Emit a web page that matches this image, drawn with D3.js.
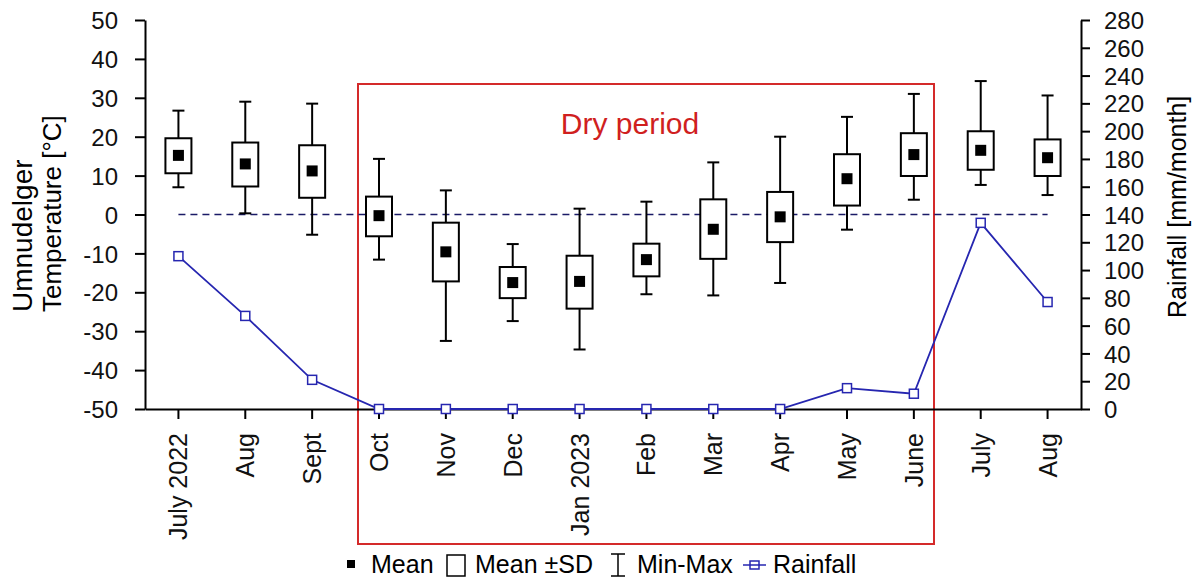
<!DOCTYPE html>
<html>
<head>
<meta charset="utf-8">
<script src="https://cdn.jsdelivr.net/npm/d3@7"></script>
<style>
  body { margin: 0; background: #fff; }
  text { font-family: "Liberation Sans", Arial, sans-serif; }
</style>
</head>
<body>
<script>
// months on the x axis (last "Aug" has a trailing space so the band scale keeps it apart)
var months = ["July 2022", "Aug", "Sept", "Oct", "Nov", "Dec", "Jan 2023", "Feb", "Mar", "Apr", "May", "June", "July", "Aug "];
// temperature stats (degC)
var tMean = [15.2, 13.0, 11.2, -0.3, -9.6, -17.5, -17.2, -11.6, -3.8, -0.6, 9.2, 15.4, 16.5, 14.6];
var tSdHigh = [19.6, 18.5, 17.8, 4.6, -2.1, -13.5, -10.6, -7.5, 3.9, 5.8, 15.5, 20.9, 21.4, 19.3];
var tSdLow = [10.6, 7.2, 4.3, -5.6, -17.2, -21.5, -24.2, -15.9, -11.4, -7.1, 2.3, 9.9, 11.5, 9.9];
var tMax = [26.7, 29.0, 28.5, 14.3, 6.2, -7.6, 1.5, 3.3, 13.4, 20.0, 25.1, 31.0, 34.3, 30.6];
var tMin = [7.0, 0.3, -5.2, -11.6, -32.5, -27.4, -34.7, -20.5, -20.8, -17.6, -3.9, 3.8, 7.6, 5.0];
// monthly rainfall (mm/month)
var rain = [110, 67, 21, 0, 0, 0, 0, 0, 0, 0, 15, 11, 134, 77];
var leftTicks = d3.range(-50, 51, 10);
var rightTicks = d3.range(0, 281, 20);

var width = 1199, height = 580;
var plotLeft = 145, plotRight = 1081, plotTop = 20, plotBottom = 409;

var svg = d3.select("body").append("svg")
    .attr("width", width)
    .attr("height", height);

var x = d3.scaleBand().domain(months).range([plotLeft, plotRight]).padding(0);
var y = d3.scaleLinear().domain([-50, 50]).range([plotBottom, plotTop]);
var y2 = d3.scaleLinear().domain([0, 280]).range([plotBottom, plotTop]);
var cx = function(i) { return x(months[i]) + x.bandwidth() / 2; };
// plain hyphen for negatives, like the original
var plain = function(d) { return String(d); };

// dry period frame
svg.append("rect")
    .attr("x", 358).attr("y", 84)
    .attr("width", 934 - 358).attr("height", 544 - 84)
    .attr("fill", "none")
    .attr("stroke", "#d42a2a")
    .attr("stroke-width", 2);
svg.append("text")
    .attr("x", 630).attr("y", 134)
    .attr("text-anchor", "middle")
    .attr("font-size", 30)
    .attr("fill", "#d01f1f")
    .text("Dry period");

// axes
var yAxis = svg.append("g")
    .attr("transform", "translate(" + plotLeft + ",0)")
    .call(d3.axisLeft(y).tickValues(leftTicks).tickFormat(plain).tickSize(10).tickPadding(17).tickSizeOuter(0));
var yAxis2 = svg.append("g")
    .attr("transform", "translate(" + plotRight + ",0)")
    .call(d3.axisRight(y2).tickValues(rightTicks).tickFormat(plain).tickSize(9).tickPadding(14).tickSizeOuter(0));
var xAxis = svg.append("g")
    .attr("transform", "translate(0," + plotBottom + ")")
    .call(d3.axisBottom(x).tickSize(10).tickSizeOuter(0));

[yAxis, yAxis2, xAxis].forEach(function(a) {
    a.select(".domain").attr("stroke", "#000").attr("stroke-width", 2);
    a.selectAll(".tick line").attr("stroke", "#000").attr("stroke-width", 2);
    a.selectAll("text").attr("font-size", 24).attr("fill", "#111").attr("font-family", "Liberation Sans, Arial, sans-serif");
});
yAxis.selectAll("text").attr("dy", "0.36em");
yAxis2.selectAll("text").attr("dy", "0.36em");
xAxis.selectAll("text")
    .text(function(d) { return d.trim(); })
    .attr("transform", "rotate(-90)")
    .attr("text-anchor", "end")
    .attr("x", -24)
    .attr("y", 0)
    .attr("dy", "0.36em")
    .attr("font-size", 25);

// axis titles
svg.append("text")
    .attr("transform", "translate(32,312) rotate(-90)")
    .attr("font-size", 28)
    .text("Umnudelger");
svg.append("text")
    .attr("transform", "translate(61,312) rotate(-90)")
    .attr("font-size", 26)
    .text("Temperature [°C]");
svg.append("text")
    .attr("transform", "translate(1186,318) rotate(-90)")
    .attr("font-size", 25)
    .text("Rainfall [mm/month]");

// zero line
svg.append("line")
    .attr("x1", cx(0)).attr("x2", cx(months.length - 1))
    .attr("y1", y(0)).attr("y2", y(0))
    .attr("stroke", "#1a1a66")
    .attr("stroke-width", 1.6)
    .attr("stroke-dasharray", "7,5");

// box plots
var boxW = 26, capW = 12, meanS = 11;
var g = svg.selectAll("g.month")
    .data(months)
    .enter()
    .append("g")
    .attr("class", "month");
g.append("line")
    .attr("x1", function(d, i) { return cx(i); })
    .attr("x2", function(d, i) { return cx(i); })
    .attr("y1", function(d, i) { return y(tMax[i]); })
    .attr("y2", function(d, i) { return y(tMin[i]); })
    .attr("stroke", "#000").attr("stroke-width", 2);
g.append("line")
    .attr("x1", function(d, i) { return cx(i) - capW / 2; })
    .attr("x2", function(d, i) { return cx(i) + capW / 2; })
    .attr("y1", function(d, i) { return y(tMax[i]); })
    .attr("y2", function(d, i) { return y(tMax[i]); })
    .attr("stroke", "#000").attr("stroke-width", 2);
g.append("line")
    .attr("x1", function(d, i) { return cx(i) - capW / 2; })
    .attr("x2", function(d, i) { return cx(i) + capW / 2; })
    .attr("y1", function(d, i) { return y(tMin[i]); })
    .attr("y2", function(d, i) { return y(tMin[i]); })
    .attr("stroke", "#000").attr("stroke-width", 2);
g.append("rect")
    .attr("x", function(d, i) { return cx(i) - boxW / 2; })
    .attr("y", function(d, i) { return y(tSdHigh[i]); })
    .attr("width", boxW)
    .attr("height", function(d, i) { return y(tSdLow[i]) - y(tSdHigh[i]); })
    .attr("fill", "#fff").attr("stroke", "#000").attr("stroke-width", 2);
g.append("rect")
    .attr("x", function(d, i) { return cx(i) - meanS / 2; })
    .attr("y", function(d, i) { return y(tMean[i]) - meanS / 2; })
    .attr("width", meanS).attr("height", meanS)
    .attr("fill", "#000");

// rainfall line
var blue = "#2626b0";
var line = d3.line()
    .x(function(d, i) { return cx(i); })
    .y(function(d) { return y2(d); });
svg.append("path")
    .datum(rain)
    .attr("d", line)
    .attr("fill", "none")
    .attr("stroke", blue)
    .attr("stroke-width", 1.8);
svg.selectAll("rect.rain")
    .data(rain)
    .enter()
    .append("rect")
    .attr("class", "rain")
    .attr("x", function(d, i) { return cx(i) - 4.5; })
    .attr("y", function(d) { return y2(d) - 4.5; })
    .attr("width", 9).attr("height", 9)
    .attr("fill", "#fff")
    .attr("stroke", blue)
    .attr("stroke-width", 1.5);

// legend
var leg = svg.append("g").attr("transform", "translate(0,564)");
function legText(t, px) {
    leg.append("text")
        .attr("x", px).attr("y", 9)
        .attr("font-size", 25)
        .text(t);
}
leg.append("rect").attr("x", 347).attr("y", -4).attr("width", 8).attr("height", 8).attr("fill", "#000");
legText("Mean", 371);
leg.append("rect").attr("x", 447).attr("y", -9).attr("width", 18).attr("height", 21)
    .attr("fill", "none").attr("stroke", "#000").attr("stroke-width", 1.5);
legText("Mean \u00b1SD", 475);
leg.append("line").attr("x1", 618).attr("x2", 618).attr("y1", -10).attr("y2", 12).attr("stroke", "#000").attr("stroke-width", 1.5);
leg.append("line").attr("x1", 611).attr("x2", 625).attr("y1", -10).attr("y2", -10).attr("stroke", "#000").attr("stroke-width", 1.5);
leg.append("line").attr("x1", 611).attr("x2", 625).attr("y1", 12).attr("y2", 12).attr("stroke", "#000").attr("stroke-width", 1.5);
legText("Min-Max", 637);
leg.append("line").attr("x1", 743).attr("x2", 766).attr("y1", 1).attr("y2", 1).attr("stroke", blue).attr("stroke-width", 1.5);
leg.append("rect").attr("x", 750).attr("y", -3).attr("width", 9).attr("height", 8)
    .attr("fill", "none").attr("stroke", blue).attr("stroke-width", 1.5);
legText("Rainfall", 773);
</script>
</body>
</html>
